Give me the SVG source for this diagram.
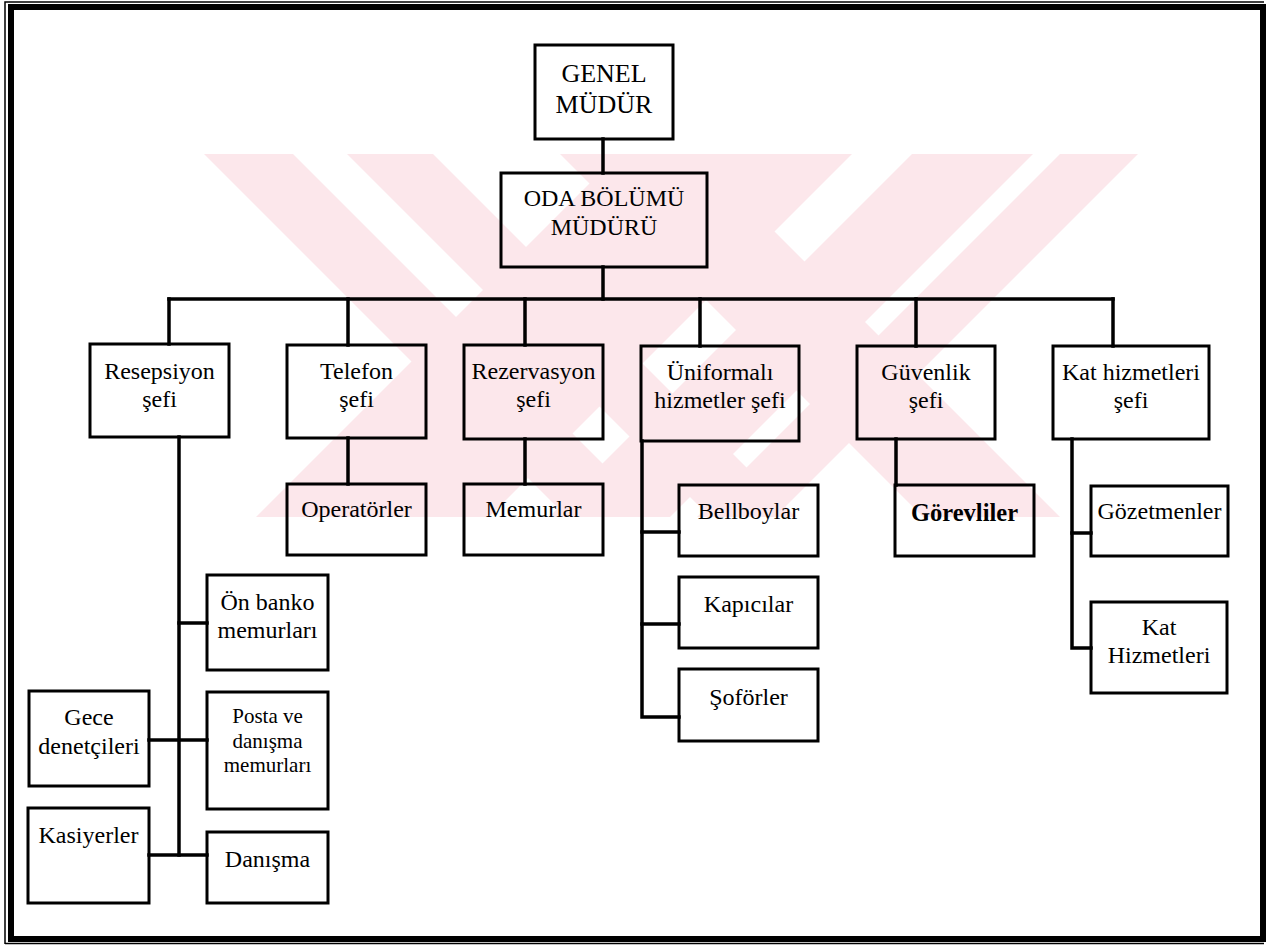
<svg xmlns="http://www.w3.org/2000/svg" width="1266" height="946" viewBox="0 0 1266 946">
  <style>
    .box { fill: none; stroke: #000; stroke-width: 3; }
    .lbl { font-family: "Liberation Serif", "Times New Roman", "DejaVu Serif", serif; font-size: 24px; fill: #000; text-anchor: middle; }
    .big { font-size: 26px; }
    .small { font-size: 21px; }
    .heavy { font-weight: bold; font-size: 24.5px; }
    .wire { fill: none; stroke: #000; stroke-width: 3.5; stroke-linecap: square; }
    .band { fill: #fce7eb; }
  </style>
  <defs>
    <clipPath id="markClip">
      <rect x="85" y="154" width="1055" height="363"/>
    </clipPath>
  </defs>

  <rect x="0" y="0" width="1266" height="946" fill="#fff"/>

  <!-- pale background emblem made of diagonal bands -->
  <g id="watermark" clip-path="url(#markClip)">
    <polygon class="band" points="204,154 293,154 656,517 567,517"/>
    <polygon class="band" points="347,154 433,154 796,517 710,517"/>
    <polygon class="band" points="560,154 697,154 1060,517 923,517"/>
    <polygon class="band" points="619,154 852,154 489,517 256,517"/>
    <polygon class="band" points="912,154 1033,154 670,517 549,517"/>
    <polygon class="band" points="1060,154 1138,154 775,517 697,517"/>
  </g>

  <!-- page frame -->
  <g id="frame">
    <rect x="11" y="7" width="1252" height="932" fill="none" stroke="#000" stroke-width="6"/>
    <polyline points="5,944 5,2 1264,2" fill="none" stroke="#000" stroke-width="1.5"/>
    <line x1="5" y1="943.5" x2="1264" y2="943.5" stroke="#000" stroke-width="1.5"/>
  </g>

  <!-- connectors -->
  <g id="connectors" class="wire">
    <path d="M603,139 V173"/>
    <path d="M603,267 V299"/>
    <path d="M169,299 H1113"/>
    <path d="M169,299 V344"/>
    <path d="M348,299 V345"/>
    <path d="M525,299 V345"/>
    <path d="M700,299 V346"/>
    <path d="M916,299 V346"/>
    <path d="M1113,299 V346"/>
    <path d="M348,438 V484"/>
    <path d="M525,439 V484"/>
    <path d="M642,441 V717 H679"/>
    <path d="M642,532 H679"/>
    <path d="M642,624 H679"/>
    <path d="M896,439 V485"/>
    <path d="M1072,439 V648 H1091"/>
    <path d="M1072,533 H1091"/>
    <path d="M179,437 V855"/>
    <path d="M179,623 H207"/>
    <path d="M149,740 H207"/>
    <path d="M149,855 H207"/>
  </g>

  <g id="genel-mudur">
    <rect class="box" x="535" y="45" width="138" height="94"/>
    <text class="lbl big" x="604" y="82">GENEL</text>
    <text class="lbl big" x="604" y="113">MÜDÜR</text>
  </g>

  <g id="oda-bolumu-muduru">
    <rect class="box" x="501" y="173" width="206" height="94"/>
    <text class="lbl" x="604" y="206">ODA BÖLÜMÜ</text>
    <text class="lbl" x="604" y="235">MÜDÜRÜ</text>
  </g>

  <g id="resepsiyon-sefi">
    <rect class="box" x="90" y="344" width="139" height="93"/>
    <text class="lbl" x="159.5" y="379">Resepsiyon</text>
    <text class="lbl" x="159.5" y="407">şefi</text>
  </g>

  <g id="telefon-sefi">
    <rect class="box" x="287" y="345" width="139" height="93"/>
    <text class="lbl" x="356.5" y="379">Telefon</text>
    <text class="lbl" x="356.5" y="407">şefi</text>
  </g>

  <g id="rezervasyon-sefi">
    <rect class="box" x="464" y="345" width="139" height="94"/>
    <text class="lbl" x="533.5" y="379">Rezervasyon</text>
    <text class="lbl" x="533.5" y="407">şefi</text>
  </g>

  <g id="uniformali-hizmetler-sefi">
    <rect class="box" x="641" y="346" width="158" height="95"/>
    <text class="lbl" x="720" y="380">Üniformalı</text>
    <text class="lbl" x="720" y="408">hizmetler şefi</text>
  </g>

  <g id="guvenlik-sefi">
    <rect class="box" x="857" y="346" width="138" height="93"/>
    <text class="lbl" x="926" y="380">Güvenlik</text>
    <text class="lbl" x="926" y="408">şefi</text>
  </g>

  <g id="kat-hizmetleri-sefi">
    <rect class="box" x="1053" y="346" width="156" height="93"/>
    <text class="lbl" x="1131" y="380">Kat hizmetleri</text>
    <text class="lbl" x="1131" y="408">şefi</text>
  </g>

  <g id="operatorler">
    <rect class="box" x="287" y="484" width="139" height="71"/>
    <text class="lbl" x="356.5" y="517">Operatörler</text>
  </g>

  <g id="memurlar">
    <rect class="box" x="464" y="484" width="139" height="71"/>
    <text class="lbl" x="533.5" y="517">Memurlar</text>
  </g>

  <g id="bellboylar">
    <rect class="box" x="679" y="485" width="139" height="71"/>
    <text class="lbl" x="748.5" y="519">Bellboylar</text>
  </g>

  <g id="kapicilar">
    <rect class="box" x="679" y="577" width="139" height="71"/>
    <text class="lbl" x="748.5" y="612">Kapıcılar</text>
  </g>

  <g id="soforler">
    <rect class="box" x="679" y="669" width="139" height="72"/>
    <text class="lbl" x="748.5" y="705">Şoförler</text>
  </g>

  <g id="gorevliler">
    <rect class="box" x="895" y="485" width="139" height="71"/>
    <text class="lbl heavy" x="964.5" y="521">Görevliler</text>
  </g>

  <g id="gozetmenler">
    <rect class="box" x="1091" y="486" width="137" height="70"/>
    <text class="lbl" x="1159.5" y="519">Gözetmenler</text>
  </g>

  <g id="kat-hizmetleri">
    <rect class="box" x="1091" y="602" width="136" height="91"/>
    <text class="lbl" x="1159" y="635">Kat</text>
    <text class="lbl" x="1159" y="663">Hizmetleri</text>
  </g>

  <g id="on-banko-memurlari">
    <rect class="box" x="207" y="575" width="121" height="95"/>
    <text class="lbl" x="267.5" y="610">Ön banko</text>
    <text class="lbl" x="267.5" y="638">memurları</text>
  </g>

  <g id="posta-ve-danisma-memurlari">
    <rect class="box" x="207" y="692" width="121" height="117"/>
    <text class="lbl small" x="267.5" y="723">Posta ve</text>
    <text class="lbl small" x="267.5" y="748">danışma</text>
    <text class="lbl small" x="267.5" y="772">memurları</text>
  </g>

  <g id="gece-denetcileri">
    <rect class="box" x="29" y="691" width="120" height="95"/>
    <text class="lbl" x="89" y="725">Gece</text>
    <text class="lbl" x="89" y="754">denetçileri</text>
  </g>

  <g id="kasiyerler">
    <rect class="box" x="28" y="808" width="121" height="95"/>
    <text class="lbl" x="88.5" y="843">Kasiyerler</text>
  </g>

  <g id="danisma">
    <rect class="box" x="207" y="832" width="121" height="71"/>
    <text class="lbl" x="267.5" y="867">Danışma</text>
  </g>
</svg>
